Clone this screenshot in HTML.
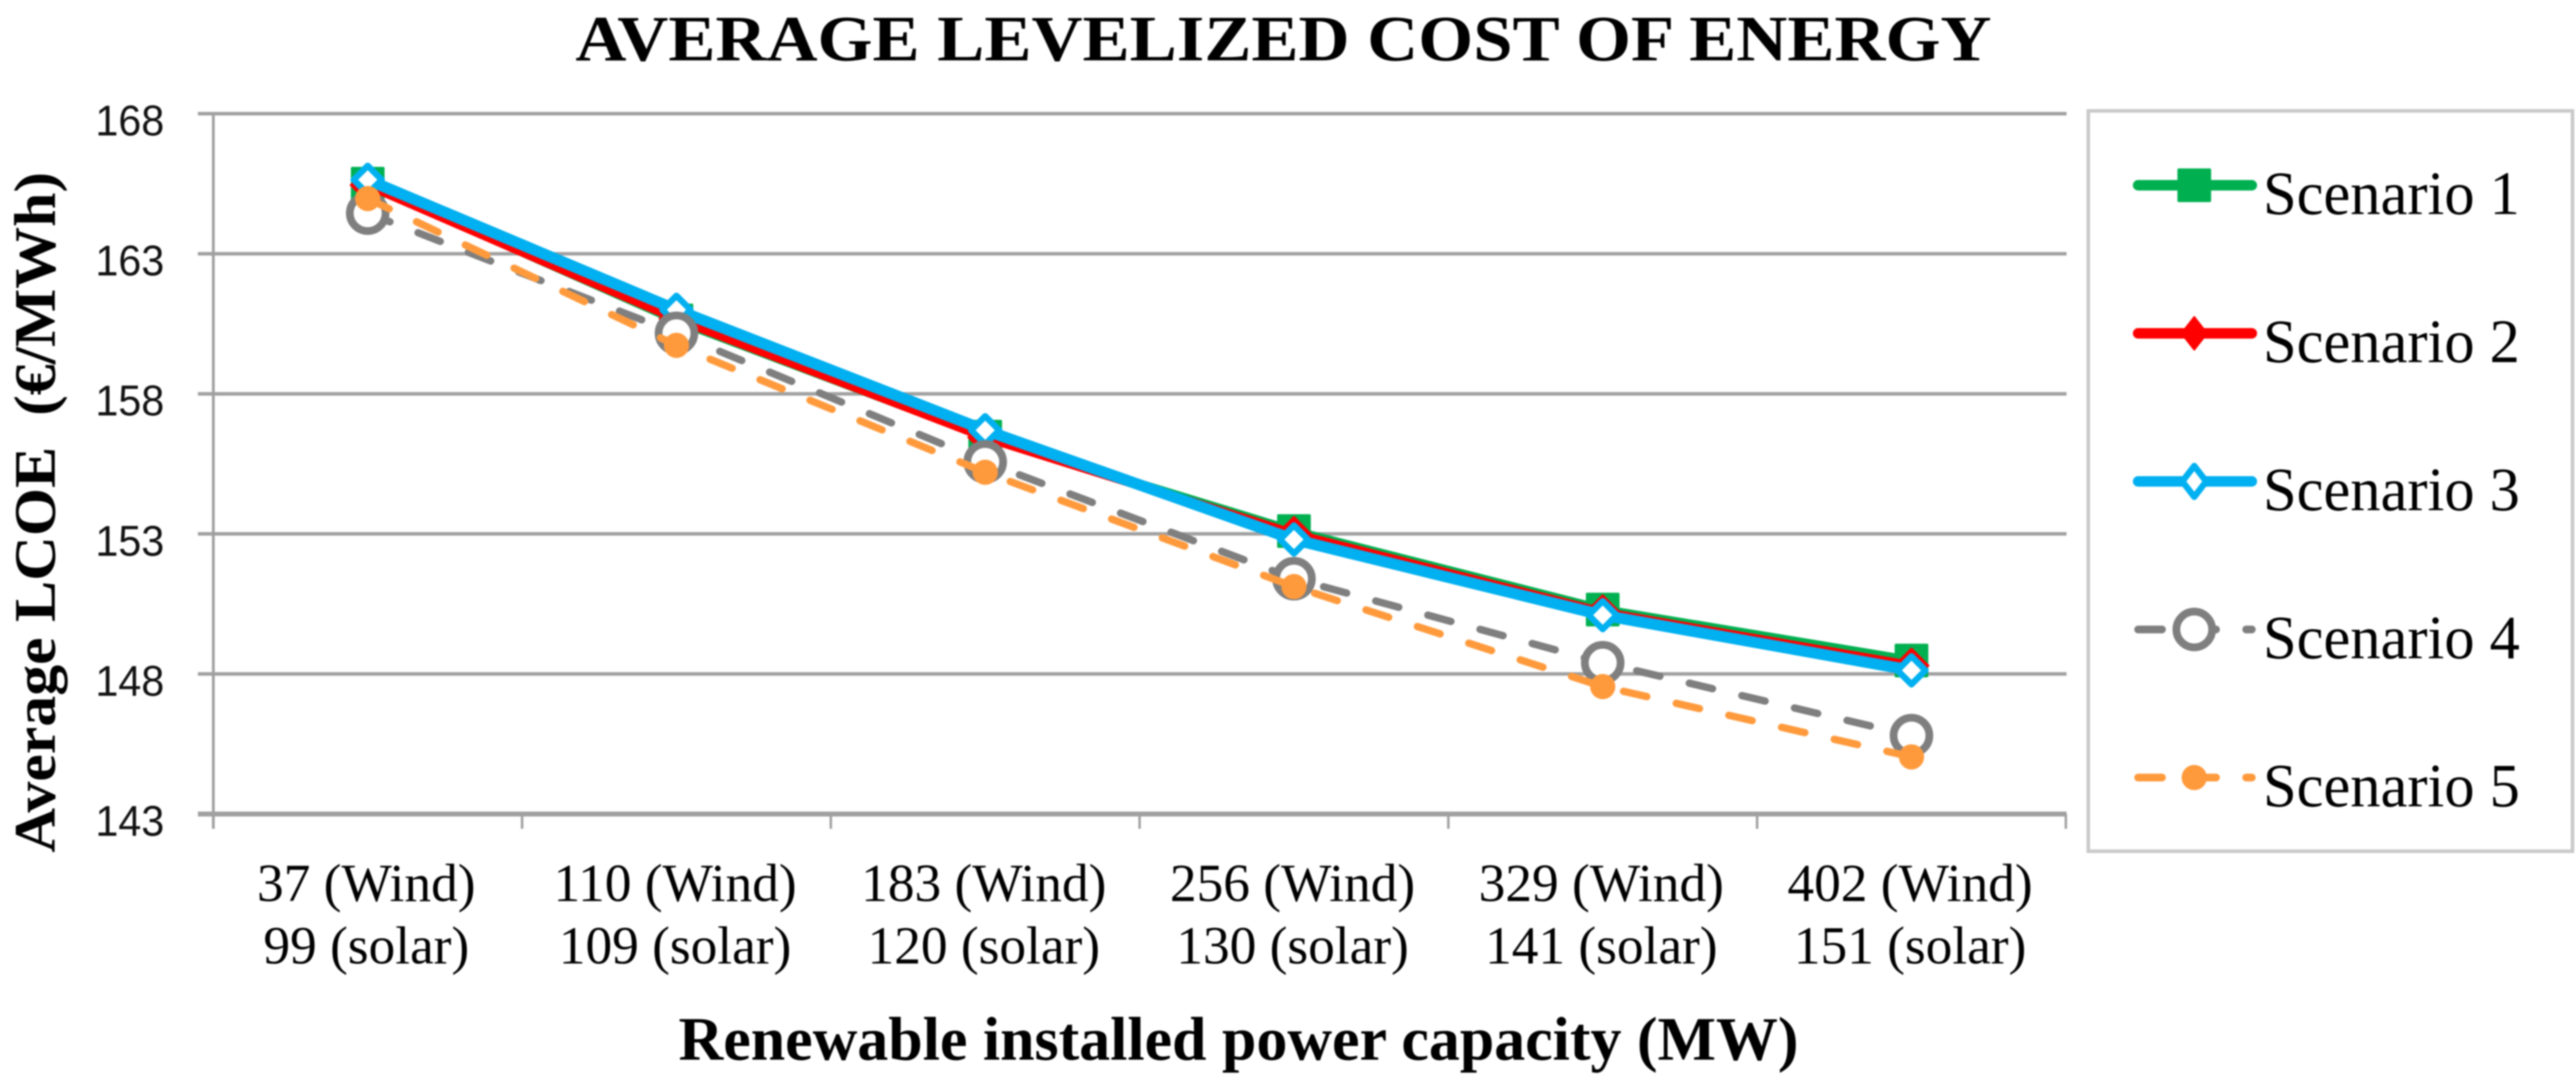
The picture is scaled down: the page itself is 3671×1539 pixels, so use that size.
<!DOCTYPE html>
<html lang="en">
<head>
<meta charset="utf-8">
<title>Average Levelized Cost of Energy</title>
<style>
html,body{margin:0;padding:0;background:#fff;}
body{width:3671px;height:1539px;overflow:hidden;}
svg{display:block;filter:blur(1px);}
.serif{font-family:"Liberation Serif",serif;fill:#000;}
.sans{font-family:"Liberation Sans",sans-serif;fill:#111;}
</style>
</head>
<body>
<svg id="chart" xmlns="http://www.w3.org/2000/svg" width="3671" height="1539" viewBox="0 0 3671 1539">
  <rect x="0" y="0" width="3671" height="1539" fill="#ffffff"/>
  <text class="serif" x="820" y="86" font-size="92" font-weight="bold" textLength="2018" lengthAdjust="spacingAndGlyphs">AVERAGE LEVELIZED COST OF ENERGY</text>
  <text class="serif" x="967" y="1510" font-size="88" font-weight="bold" textLength="1596" lengthAdjust="spacingAndGlyphs">Renewable installed power capacity (MW)</text>
  <text class="serif" x="78" y="1215" transform="rotate(-90 78 1215)" font-size="84" font-weight="bold" textLength="970" lengthAdjust="spacingAndGlyphs">Average LCOE&#160;&#160;(€/MWh)</text>
  <g id="axes"></g>
  <g id="series"></g>
  <g id="legend">
    <rect x="2976" y="158" width="690" height="1055" fill="#ffffff" stroke="#c9c9c9" stroke-width="5"/>
  </g>
</svg>
<script>
const categoriesWind = ["37 (Wind)", "110 (Wind)", "183 (Wind)", "256 (Wind)", "329 (Wind)", "402 (Wind)"];
const categoriesSolar = ["99 (solar)", "109 (solar)", "120 (solar)", "130 (solar)", "141 (solar)", "151 (solar)"];
const yTickValues = [143, 148, 153, 158, 163, 168];
const scenarioNames = ["Scenario 1", "Scenario 2", "Scenario 3", "Scenario 4", "Scenario 5"];
const scenario1 = [165.5, 160.62, 156.47, 153.1, 150.3, 148.48];
const scenario2 = [165.45, 160.68, 156.45, 153.0, 150.2, 148.3];
const scenario3 = [165.64, 161.0, 156.7, 152.8, 150.1, 148.13];
const scenario4 = [164.45, 160.16, 155.57, 151.4, 148.4, 145.8];
const scenario5 = [164.97, 159.73, 155.2, 151.12, 147.55, 145.04];

const NS = "http://www.w3.org/2000/svg";
const plotLeft = 304, plotRight = 2944, yTop = 162, yBottom = 1160;
const yMin = 143, yMax = 168;
function xScale(i) { return plotLeft + (i + 0.5) * (plotRight - plotLeft) / categoriesWind.length; }
function xEdge(i) { return plotLeft + i * (plotRight - plotLeft) / categoriesWind.length; }
function yScale(v) { return yBottom - (v - yMin) * (yBottom - yTop) / (yMax - yMin); }
function make(tag, attrs, parent) {
  const el = document.createElementNS(NS, tag);
  for (const k in attrs) el.setAttribute(k, attrs[k]);
  parent.appendChild(el);
  return el;
}
const axes = document.getElementById("axes");
const seriesLayer = document.getElementById("series");
const legend = document.getElementById("legend");
const axisColor = "#a0a0a0";

yTickValues.forEach(function (v) {
  const grid = make("line", {x1: plotLeft - 22, x2: plotRight + 1, y1: yScale(v), y2: yScale(v), stroke: axisColor, "stroke-width": v === yMin ? 7 : 5}, axes);
  
  
  const label = make("text", {x: 234, y: yScale(v) + 31, "text-anchor": "end", "font-size": 61, textLength: 98, lengthAdjust: "spacingAndGlyphs", class: "sans"}, axes);
  label.textContent = String(v);
  
  
});

const yAxis = make("line", {x1: plotLeft, x2: plotLeft, y1: yScale(yMax), y2: yBottom + 21, stroke: axisColor, "stroke-width": 4}, axes);



for (let i = 1; i <= categoriesWind.length; i++) {
  const tick = make("line", {x1: xEdge(i), x2: xEdge(i), y1: yBottom, y2: yBottom + 21, stroke: axisColor, "stroke-width": 3.5}, axes);
  
  
}

categoriesWind.forEach(function (c, i) {
  const top = make("text", {x: xScale(i) - 2, y: 1284, "text-anchor": "middle", "font-size": 76, class: "serif"}, axes);
  top.textContent = c;
  
  
  const bottom = make("text", {x: xScale(i) - 2, y: 1373, "text-anchor": "middle", "font-size": 76, class: "serif"}, axes);
  bottom.textContent = categoriesSolar[i];
  
  
});

function drawLine(values, color, width, dashed) {
  const pts = values.map(function (v, i) { return xScale(i) + "," + yScale(v); }).join(" ");
  const attrs = {points: pts, fill: "none", stroke: color, "stroke-width": width, "stroke-linejoin": "round"};
  if (dashed) { attrs["stroke-dasharray"] = "34 43"; attrs["stroke-linecap"] = "round"; }
  return make("polyline", attrs, seriesLayer);
}
function squareMarker(parent, cx, cy, color) {
  return make("rect", {x: cx - 24, y: cy - 24, width: 48, height: 48, rx: 2, fill: color}, parent);
}
function solidDiamond(parent, cx, cy, color, hw, hh) {
  return make("polygon", {points: [cx, cy - hh, cx + hw, cy, cx, cy + hh, cx - hw, cy].join(" "), fill: color, stroke: color, "stroke-width": 3, "stroke-linejoin": "round"}, parent);
}
function openDiamond(parent, cx, cy, color, hw, hh) {
  return make("polygon", {points: [cx, cy - hh, cx + hw, cy, cx, cy + hh, cx - hw, cy].join(" "), fill: "#ffffff", stroke: color, "stroke-width": 9, "stroke-linejoin": "round"}, parent);
}
function ring(parent, cx, cy, color) {
  return make("circle", {cx: cx, cy: cy, r: 25.5, fill: "#ffffff", stroke: color, "stroke-width": 11}, parent);
}
function dot(parent, cx, cy, color) {
  return make("circle", {cx: cx, cy: cy, r: 18, fill: color}, parent);
}

const green = "#00b050", red = "#ff0000", blue = "#00b0f0", gray = "#7f7f7f", orange = "#ff9a3c";

const line1 = drawLine(scenario1, green, 13, false);


scenario1.forEach(function (v, i) {
  const m = squareMarker(seriesLayer, xScale(i), yScale(v), green);
  
  
});
const line2 = drawLine(scenario2, red, 13, false);


scenario2.forEach(function (v, i) {
  const m = solidDiamond(seriesLayer, xScale(i), yScale(v), red, 24, 24);
  
  
});
const line3 = drawLine(scenario3, blue, 16, false);


scenario3.forEach(function (v, i) {
  const m = openDiamond(seriesLayer, xScale(i), yScale(v), blue, 20, 20);
  
  
});
const line4 = drawLine(scenario4, gray, 10.5, true);


scenario4.forEach(function (v, i) {
  const m = ring(seriesLayer, xScale(i), yScale(v), gray);
  
  
});
const line5 = drawLine(scenario5, orange, 10.5, true);


scenario5.forEach(function (v, i) {
  const m = dot(seriesLayer, xScale(i), yScale(v), orange);
  
  
});

const legendColors = [green, red, blue, gray, orange];
scenarioNames.forEach(function (name, i) {
  const rowY = 264 + i * 211;
  const dashed = i >= 3;
  const attrs = {x1: 3047, x2: 3209, y1: rowY, y2: rowY, stroke: legendColors[i], "stroke-width": dashed ? 11 : 15, "stroke-linecap": "round"};
  if (dashed) { attrs["stroke-dasharray"] = "34 43"; }
  const sample = make("line", attrs, legend);
  
  
  let marker;
  if (i === 0) { marker = squareMarker(legend, 3127, rowY, legendColors[i]); }
  if (i === 1) { marker = solidDiamond(legend, 3127, rowY, legendColors[i], 18, 23); }
  if (i === 2) { marker = openDiamond(legend, 3127, rowY, legendColors[i], 17, 22); }
  if (i === 3) { marker = ring(legend, 3127, rowY, legendColors[i]); }
  if (i === 4) { marker = dot(legend, 3127, rowY, legendColors[i]); }
  
  
  const label = make("text", {x: 3225, y: rowY + 41, "font-size": 88, textLength: 366, lengthAdjust: "spacingAndGlyphs", class: "serif"}, legend);
  label.textContent = name;
  
  
});
</script>
</body>
</html>
